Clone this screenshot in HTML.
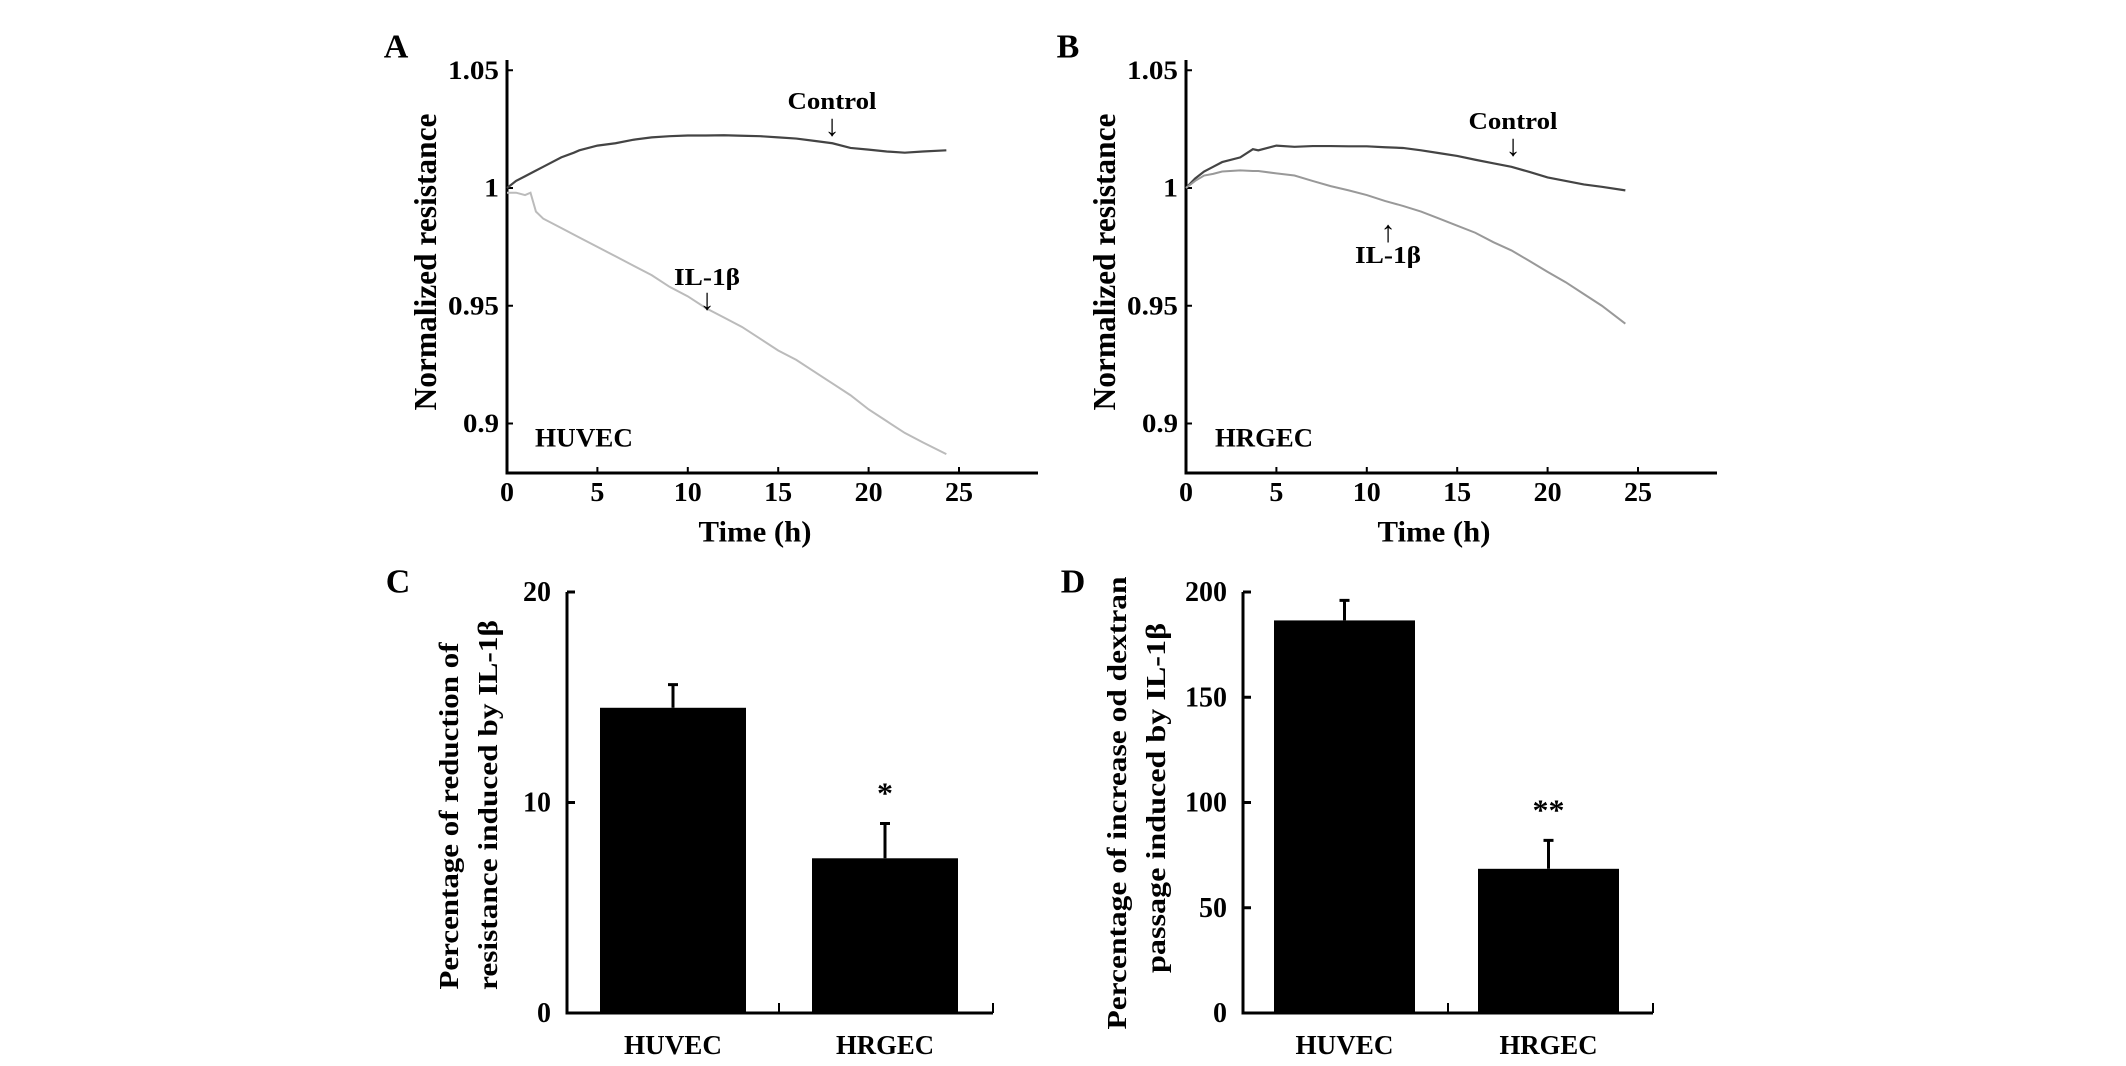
<!DOCTYPE html>
<html><head><meta charset="utf-8"><style>
html,body{margin:0;padding:0;background:#fff;}
svg{display:block;}
text{font-family:"Liberation Serif",serif;font-weight:bold;fill:#000;}
</style></head><body>
<svg id="fig" width="2126" height="1066" viewBox="0 0 2126 1066" xmlns="http://www.w3.org/2000/svg"></svg>
<script>
const hours = [0,0.5,1,1.5,2,3,3.7,4,5,6,7,8,9,10,11,12,13,14,15,16,17,18,19,20,21,22,23,24.3];
const aControl = [1.000,1.003,1.005,1.007,1.009,1.013,1.015,1.016,1.018,1.019,1.0205,1.0215,1.022,1.0223,1.0223,1.0224,1.0222,1.022,1.0215,1.021,1.020,1.019,1.017,1.0163,1.0155,1.015,1.0155,1.016];
const aILHours = [0,0.5,1,1.3,1.6,2,3,4,5,6,7,8,9,10,11,12,13,14,15,16,17,18,19,20,21,22,23,24.3];
const aIL = [0.998,0.998,0.997,0.998,0.990,0.987,0.983,0.979,0.975,0.971,0.967,0.963,0.958,0.954,0.949,0.945,0.941,0.936,0.931,0.927,0.922,0.917,0.912,0.906,0.901,0.896,0.892,0.887];
const bControl = [1.000,1.004,1.007,1.009,1.011,1.013,1.0165,1.016,1.018,1.0175,1.0178,1.0178,1.0177,1.0177,1.0173,1.017,1.016,1.0148,1.0136,1.012,1.0105,1.009,1.0068,1.0045,1.003,1.0015,1.0005,0.999];
const bIL = [1.000,1.003,1.0053,1.006,1.007,1.0075,1.0072,1.0072,1.0062,1.0053,1.003,1.0008,0.999,0.997,0.9945,0.9924,0.990,0.987,0.984,0.981,0.977,0.9735,0.969,0.9644,0.960,0.955,0.950,0.9424];
const yTicksLine = [0.9,0.95,1,1.05];
const xTicksLine = [0,5,10,15,20,25];
const barCats = ["HUVEC","HRGEC"];
const cVals = [14.5,7.35];
const cErr = [1.1,1.65];
const cTicks = [0,10,20];
const dVals = [186.5,68.5];
const dErr = [9.5,13.5];
const dTicks = [0,50,100,150,200];

const svg = document.getElementById('fig');
const NS = 'http://www.w3.org/2000/svg';
function mk(tag, attrs, parent){
  const e = document.createElementNS(NS, tag);
  for (const k in attrs) e.setAttribute(k, attrs[k]);
  (parent||svg).appendChild(e);
  return e;
}
function txt(str, x, y, size, len, parent, rot){
  const t = mk('text', {x:x, y:y, 'font-size':size, 'text-anchor':'middle', 'dominant-baseline':'central'}, parent);
  if (len) { t.setAttribute('textLength', len); t.setAttribute('lengthAdjust','spacingAndGlyphs'); }
  if (rot) t.setAttribute('transform', 'rotate(-90 '+x+' '+y+')');
  t.textContent = str;
  return t;
}
function numLen(s, dw){ let n=0; for (const ch of s) n += (ch==='.') ? 6 : dw; return n; }

function linePanel(p){
  const g = mk('g', {});
  
  
  const xs = h => p.x0 + h * 18.08;
  const ys = v => 188 - (v - 1) * 2355;
  const ax = mk('path', {d:'M'+p.x0+' 60 V473 H'+(p.x0+531), stroke:'#000','stroke-width':3, fill:'none'}, g);
  
  
  yTicksLine.forEach(v=>{
    mk('line', {x1:p.x0, x2:p.x0+6, y1:ys(v), y2:ys(v), stroke:'#000','stroke-width':2}, g);
    const s = String(v);
    const t = txt(s, p.x0-30, ys(v), 26, numLen(s,15), g);
    t.setAttribute('text-anchor','end');
    t.setAttribute('x', p.x0-8);
    
    
  });
  xTicksLine.forEach(h=>{
    mk('line', {x1:xs(h), x2:xs(h), y1:473, y2:467, stroke:'#000','stroke-width':2}, g);
    const s = String(h);
    const t = txt(s, xs(h), 492, 27, numLen(s,14), g);
    
    
  });
  const c = mk('polyline', {points: p.ctlH.map((h,i)=>xs(h)+','+ys(p.ctl[i])).join(' '), fill:'none', stroke:'#444','stroke-width':2.2}, g);
  
  
  const il = mk('polyline', {points: p.ilH.map((h,i)=>xs(h)+','+ys(p.il[i])).join(' '), fill:'none', stroke:p.ilColor,'stroke-width':2}, g);
  
  
  let t;
  t = txt(p.letter, p.letterX, 47, 34, 0, g);  
  t = txt('Normalized resistance', p.x0-82, 262, 32, 297, g, true);  
  t = txt('Time (h)', p.x0+248, 532, 30, 113, g);  
  t = txt(p.cell, p.cellX, 438, 26, 98, g);  
  t = txt('Control', p.ctlLX, p.ctlLY, 24, 89, g);  
  t = txt(p.ilArrow==='down'?'↓':'↑', p.ilLX, p.ilArrow==='down'?p.ilLY+22:p.ilLY-24, 30, 0, g);  
  t = txt('↓', p.ctlLX, p.ctlLY+24, 30, 0, g);  
  t = txt('IL-1β', p.ilLX, p.ilLY, 24, 66, g);  
}
linePanel({name:'panel-a-huvec-resistance', x0:507, letter:'A', letterX:396, cell:'HUVEC', cellX:584,
  ctlH:hours, ctl:aControl, ilH:aILHours, il:aIL, ilColor:'#bbb',
  ctlLX:832, ctlLY:102, ilLX:707, ilLY:278, ilArrow:'down'});
linePanel({name:'panel-b-hrgec-resistance', x0:1186, letter:'B', letterX:1068, cell:'HRGEC', cellX:1264,
  ctlH:hours, ctl:bControl, ilH:hours, il:bIL, ilColor:'#999',
  ctlLX:1513, ctlLY:122, ilLX:1388, ilLY:256, ilArrow:'up'});

function barPanel(p){
  const g = mk('g', {});
  
  
  const ys = v => 1013 - v / p.max * (1013 - 592);
  const ax = mk('path', {d:'M'+p.x0+' 592 V1013 H'+p.xEnd, stroke:'#000','stroke-width':3, fill:'none'}, g);
  
  
  mk('line', {x1:p.xMid, x2:p.xMid, y1:1013, y2:1003, stroke:'#000','stroke-width':2}, g);
  mk('line', {x1:p.xEnd, x2:p.xEnd, y1:1013, y2:1003, stroke:'#000','stroke-width':2}, g);
  p.ticks.forEach(v=>{
    mk('line', {x1:p.x0, x2:p.x0+8, y1:ys(v), y2:ys(v), stroke:'#000','stroke-width':3}, g);
    const t = txt(String(v), 0, ys(v), 29, String(v).length*14, g);
    t.setAttribute('text-anchor','end');
    t.setAttribute('x', p.x0-16);
    
    
  });
  barCats.forEach((c,i)=>{
    const x = p.barX[i], w = p.barW;
    const r = mk('rect', {x:x, y:ys(p.vals[i]), width:w, height:1013-ys(p.vals[i]), fill:'#000'}, g);
    
    
    const cx = x + w/2, top = ys(p.vals[i]+p.err[i]);
    const e = mk('path', {d:'M'+cx+' '+ys(p.vals[i])+' V'+top+' M'+(cx-5)+' '+top+' H'+(cx+5), stroke:'#000','stroke-width':3}, g);
    
    
    const l = txt(c, cx, 1045, 27, 98, g);
    
    
  });
  const cx = p.barX[1] + p.barW/2;
  let t = txt(p.star, cx, ys(p.vals[1]+p.err[1]) - 30, 30, p.star.length*16, g);
   
  t = txt(p.letter, p.letterX, 582, 34, 0, g);  
  t = txt(p.t1, p.t1x, p.t1y, 27, p.t1l, g, true);  
  t = txt(p.t2, p.t2x, p.t2y, 27, p.t2l, g, true);  
}
barPanel({name:'panel-c-resistance-reduction', x0:567, xMid:779, xEnd:993, barX:[600,812], barW:146,
  max:20, ticks:cTicks, vals:cVals, err:cErr, star:'*', letter:'C', letterX:398,
  t1:'Percentage of reduction of', t1x:449, t1y:816, t1l:347,
  t2:'resistance induced by IL-1β', t2x:488, t2y:805, t2l:370});
barPanel({name:'panel-d-dextran-passage', x0:1243, xMid:1448, xEnd:1653, barX:[1274,1478], barW:141,
  max:200, ticks:dTicks, vals:dVals, err:dErr, star:'**', letter:'D', letterX:1073,
  t1:'Percentage of increase od dextran', t1x:1117, t1y:803, t1l:453,
  t2:'passage induced by IL-1β', t2x:1156, t2y:798, t2l:350});
</script>
</body></html>
